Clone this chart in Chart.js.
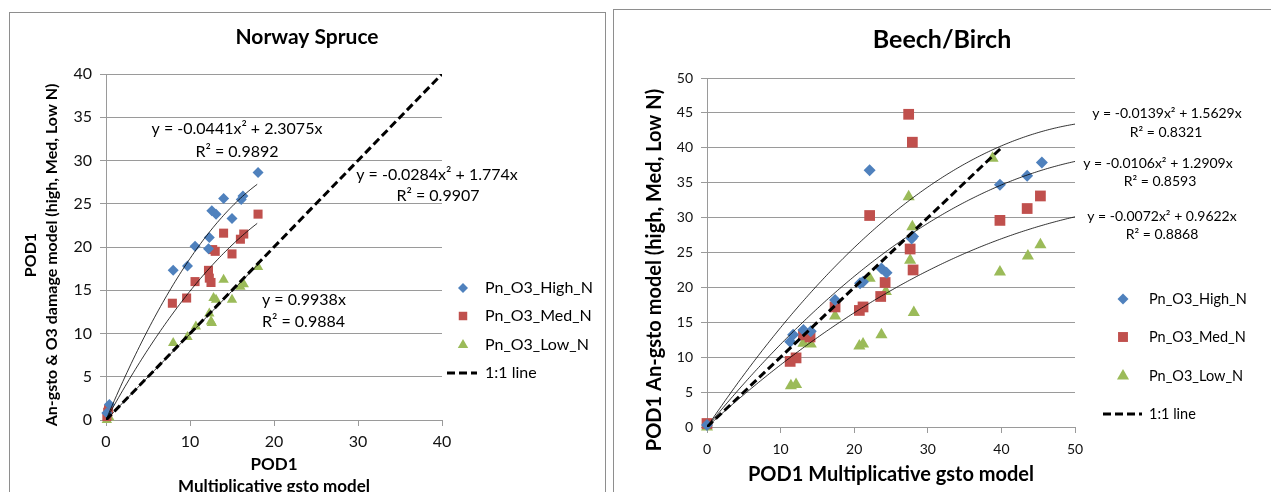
<!DOCTYPE html>
<html>
<head>
<meta charset="utf-8">
<script src="https://cdn.jsdelivr.net/npm/chart.js@4.4.1/dist/chart.umd.min.js"></script>
<style>
  body { margin: 0; background: #fff; width: 1271px; height: 492px; overflow: hidden; position: relative; }
  .frame { position: absolute; border: 1px solid #8e8e8e; }
  canvas { position: absolute; top: 0; }
</style>
</head>
<body>
<div class="frame" style="left:9px;top:12px;width:595px;height:520px"></div>
<div class="frame" style="left:613px;top:9px;width:700px;height:520px"></div>
<canvas id="spruceChart" width="610" height="492" style="left:0"></canvas>
<canvas id="birchChart" width="661" height="492" style="left:610px"></canvas>
<script>
// Norway Spruce
const spruceHighX = [0.4, 0.1, 8.0, 9.7, 10.6, 12.2, 12.3, 12.6, 13.1, 14.0, 15.0, 16.1, 16.3, 18.1];
const spruceHighY = [1.8, 0.8, 17.3, 17.8, 20.1, 19.8, 21.1, 24.2, 23.8, 25.6, 23.3, 25.5, 25.9, 28.6];
const spruceMedX = [0.1, 0.3, 0.2, 7.9, 9.6, 10.6, 12.2, 12.3, 12.5, 12.7, 13.0, 14.0, 15.0, 16.0, 16.4, 18.1];
const spruceMedY = [0.4, 1.2, 0.9, 13.5, 14.1, 16.0, 17.3, 16.4, 15.9, 19.7, 19.5, 21.6, 19.2, 20.9, 21.5, 23.8];
const spruceLowX = [0.1, 0.4, 8.0, 9.7, 10.7, 12.3, 12.5, 12.6, 12.8, 13.1, 14.0, 15.0, 16.0, 16.4, 18.1];
const spruceLowY = [0.0, 0.3, 8.9, 9.6, 10.8, 12.3, 11.4, 11.2, 14.1, 13.9, 16.2, 13.9, 15.4, 15.7, 17.7];
// coeficientes das linhas de tendência (y = a*x^2 + b*x)
const spruceFitA = [-0.0441, -0.0284, 0];
const spruceFitB = [2.3075, 1.774, 0.9938];
const spruceFitMaxX = 18.1;
const spruceTicksX = [0, 10, 20, 30, 40];
const spruceTicksY = [0, 5, 10, 15, 20, 25, 30, 35, 40];

// Beech/Birch
const birchHighX = [0, 11.3, 11.7, 13.1, 14.1, 17.4, 20.8, 21.2, 22.1, 23.7, 24.4, 27.8, 28.0, 39.8, 43.5, 45.5];
const birchHighY = [0.3, 12.2, 13.2, 13.9, 13.7, 18.2, 20.6, 20.8, 36.8, 22.7, 22.1, 27.0, 27.3, 34.7, 36.0, 37.9];
const birchMedX = [0, 11.3, 12.1, 13.1, 14.0, 17.4, 20.7, 21.2, 22.1, 23.6, 24.2, 27.4, 27.6, 27.9, 28.0, 39.8, 43.5, 45.3];
const birchMedY = [0.5, 9.4, 9.9, 13.2, 12.9, 17.2, 16.7, 17.2, 30.3, 18.7, 20.7, 44.8, 25.5, 40.8, 22.5, 29.6, 31.3, 33.1];
const birchLowX = [0, 11.4, 12.1, 13.1, 14.1, 17.4, 20.7, 21.2, 22.1, 23.7, 24.3, 27.4, 27.6, 27.9, 28.1, 38.8, 39.8, 43.6, 45.3];
const birchLowY = [0, 5.9, 6.1, 12.0, 11.9, 15.9, 11.6, 11.9, 21.3, 13.2, 19.4, 33.0, 23.9, 28.7, 16.4, 38.5, 22.2, 24.5, 26.1];
const birchFitA = [-0.0139, -0.0106, -0.0072];
const birchFitB = [1.5629, 1.2909, 0.9622];
const birchFitMaxX = 50;
const birchTicksX = [0, 10, 20, 30, 40, 50];
const birchTicksY = [0, 5, 10, 15, 20, 25, 30, 35, 40, 45, 50];

const seriesNames = ['Pn_O3_High_N', 'Pn_O3_Med_N', 'Pn_O3_Low_N', '1:1 line'];
const colors = { high: '#4f81bd', med: '#c0504d', low: '#9bbb59' };
const FONT = 'Lato, "Liberation Sans", sans-serif';

function toPoints(xs, ys) {
  return xs.map((x, i) => ({ x: x, y: ys[i] }));
}

// curva da linha de tendência a partir da equação
function fitCurve(a, b, maxX) {
  const pts = [];
  for (let x = 0; x <= maxX + 1e-9; x += 0.25) pts.push({ x: x, y: a * x * x + b * x });
  return pts;
}

function drawMarker(ctx, style, x, y, r, color) {
  ctx.save();
  ctx.fillStyle = color;
  ctx.beginPath();
  if (style === 'rectRot') {
    ctx.moveTo(x, y - r); ctx.lineTo(x + r, y); ctx.lineTo(x, y + r); ctx.lineTo(x - r, y);
  } else if (style === 'rect') {
    const h = r * Math.SQRT1_2;
    ctx.rect(x - h, y - h, 2 * h, 2 * h);
  } else {
    const w = r * Math.sin(Math.PI / 3);
    ctx.moveTo(x, y - r); ctx.lineTo(x + w, y + r / 2); ctx.lineTo(x - w, y + r / 2);
  }
  ctx.closePath();
  ctx.fill();
  ctx.restore();
}

// textos, títulos e legenda desenhados por cima
const textPlugin = {
  id: 'textPlugin',
  afterDraw(chart, args, opts) {
    const ctx = chart.ctx;
    ctx.save();
    ctx.textBaseline = 'middle';
    opts.texts.forEach(t => {
      ctx.save();
      ctx.font = (t.bold ? 'bold ' : '') + t.size + 'px ' + FONT;
      ctx.fillStyle = t.color || '#000';
      ctx.textAlign = t.align || 'center';
      ctx.translate(t.x, t.y);
      if (t.rotate) ctx.rotate(-Math.PI / 2);
      ctx.fillText(t.text, 0, 0);
      ctx.restore();
    });
    const lg = opts.legend;
    const styles = ['rectRot', 'rect', 'triangle'];
    const cols = [colors.high, colors.med, colors.low];
    ctx.font = lg.size + 'px ' + FONT;
    ctx.fillStyle = '#000';
    ctx.textAlign = 'left';
    lg.rows.forEach((ry, i) => {
      if (i < 3) {
        drawMarker(ctx, styles[i], lg.markerX, ry, lg.radius[i], cols[i]);
      } else {
        ctx.save();
        ctx.strokeStyle = '#000';
        ctx.lineWidth = 3;
        ctx.setLineDash([8, 4]);
        ctx.beginPath();
        ctx.moveTo(lg.dash[0], ry); ctx.lineTo(lg.dash[1], ry);
        ctx.stroke();
        ctx.restore();
      }
      ctx.fillText(seriesNames[i], lg.textX, ry);
    });
    ctx.restore();
  }
};

function buildConfig(p) {
  const fitSets = p.fitA.map((a, i) => ({
    type: 'line',
    data: fitCurve(a, p.fitB[i], p.fitMaxX),
    borderColor: '#000',
    borderWidth: 0.8,
    pointRadius: 0,
    fill: false,
    tension: 0
  }));
  const oneToOne = {
    type: 'line',
    data: [{ x: 0, y: 0 }, { x: p.oneMax, y: p.oneMax }],
    borderColor: '#000',
    borderWidth: 3,
    borderDash: [8, 4],
    pointRadius: 0,
    fill: false
  };
  const scatter = (pts, style, r, color) => ({
    type: 'scatter',
    data: pts,
    pointStyle: style,
    pointRadius: r,
    pointHoverRadius: r,
    backgroundColor: color,
    borderColor: color,
    borderWidth: 0,
    clip: false
  });
  return {
    type: 'scatter',
    data: {
      datasets: [
        ...fitSets,
        oneToOne,
        scatter(p.high, 'rectRot', p.radius[0], colors.high),
        scatter(p.med, 'rect', p.radius[1], colors.med),
        scatter(p.low, 'triangle', p.radius[2], colors.low)
      ]
    },
    options: {
      responsive: false,
      animation: false,
      devicePixelRatio: 1,
      layout: { padding: p.padding },
      plugins: {
        legend: { display: false },
        title: { display: false },
        tooltip: { enabled: false },
        textPlugin: { texts: p.texts, legend: p.legend }
      },
      scales: {
        x: {
          type: 'linear', min: 0, max: p.ticksX[p.ticksX.length - 1],
          afterBuildTicks: s => { s.ticks = p.ticksX.map(v => ({ value: v })); },
          afterFit: s => { s.height = p.xHeight; },
          grid: { drawOnChartArea: false, color: '#9a9a9a', tickLength: 6 },
          border: { color: '#9a9a9a' },
          ticks: { padding: p.xPad, color: '#111', font: { family: FONT, size: p.tickSize } }
        },
        y: {
          type: 'linear', min: 0, max: p.ticksY[p.ticksY.length - 1],
          afterBuildTicks: s => { s.ticks = p.ticksY.map(v => ({ value: v })); },
          afterFit: s => { s.width = p.yWidth; },
          grid: { color: '#9a9a9a', tickLength: 6 },
          border: { color: '#9a9a9a' },
          ticks: { padding: 8, color: '#111', font: { family: FONT, size: p.tickSize } }
        }
      }
    },
    plugins: [textPlugin]
  };
}

const charts = {};

charts.spruce = new Chart(document.getElementById('spruceChart'), buildConfig({
  high: toPoints(spruceHighX, spruceHighY),
  med: toPoints(spruceMedX, spruceMedY),
  low: toPoints(spruceLowX, spruceLowY),
  fitA: spruceFitA, fitB: spruceFitB, fitMaxX: spruceFitMaxX,
  oneMax: 40,
  ticksX: spruceTicksX, ticksY: spruceTicksY,
  radius: [5.5, 6.4, 6],
  padding: { left: 0, top: 74, right: 168, bottom: 0 },
  yWidth: 106, xHeight: 72, xPad: 6, tickSize: 16,
  texts: [
    { text: 'Norway Spruce', x: 307, y: 37, size: 21, bold: true },
    { text: 'POD1', x: 274, y: 465, size: 17, bold: true },
    { text: 'Multiplicative gsto model', x: 274, y: 487, size: 17, bold: true },
    { text: 'POD1', x: 31, y: 255, size: 16, bold: true, rotate: true },
    { text: 'An-gsto & O3 damage model (high, Med, Low N)', x: 52, y: 255, size: 16, bold: true, rotate: true },
    { text: 'y = -0.0441x² + 2.3075x', x: 237, y: 129, size: 16 },
    { text: 'R² = 0.9892', x: 237, y: 152, size: 16 },
    { text: 'y = -0.0284x² + 1.774x', x: 437, y: 175, size: 16 },
    { text: 'R² = 0.9907', x: 438, y: 196, size: 16 },
    { text: 'y = 0.9938x', x: 262, y: 300, size: 16, align: 'left' },
    { text: 'R² = 0.9884', x: 262, y: 322, size: 16, align: 'left' }
  ],
  legend: { markerX: 463, textX: 485, rows: [288, 316, 345, 373], size: 16, radius: [5, 6, 6], dash: [447, 477] }
}));

charts.birch = new Chart(document.getElementById('birchChart'), buildConfig({
  high: toPoints(birchHighX, birchHighY),
  med: toPoints(birchMedX, birchMedY),
  low: toPoints(birchLowX, birchLowY),
  fitA: birchFitA, fitB: birchFitB, fitMaxX: birchFitMaxX,
  oneMax: 40,
  ticksX: birchTicksX, ticksY: birchTicksY,
  radius: [6, 7.6, 7],
  padding: { left: 0, top: 78, right: 196, bottom: 0 },
  yWidth: 97, xHeight: 65, xPad: 8, tickSize: 14,
  texts: [
    { text: 'Beech/Birch', x: 332, y: 40, size: 25, bold: true },
    { text: 'POD1 Multiplicative gsto model', x: 281, y: 475, size: 20, bold: true },
    { text: 'POD1 An-gsto model (high, Med, Low N)', x: 45, y: 270, size: 20, bold: true, rotate: true },
    { text: 'y = -0.0139x² + 1.5629x', x: 557, y: 113, size: 14 },
    { text: 'R² = 0.8321', x: 556, y: 132, size: 14 },
    { text: 'y = -0.0106x² + 1.2909x', x: 548, y: 163, size: 14 },
    { text: 'R² = 0.8593', x: 550, y: 181, size: 14 },
    { text: 'y = -0.0072x² + 0.9622x', x: 552, y: 216, size: 14 },
    { text: 'R² = 0.8868', x: 552, y: 234, size: 14 }
  ],
  legend: { markerX: 513, textX: 539, rows: [299, 337, 376, 414], size: 14.5, radius: [5.5, 7, 7], dash: [493, 532] }
}));
</script>
</body>
</html>
